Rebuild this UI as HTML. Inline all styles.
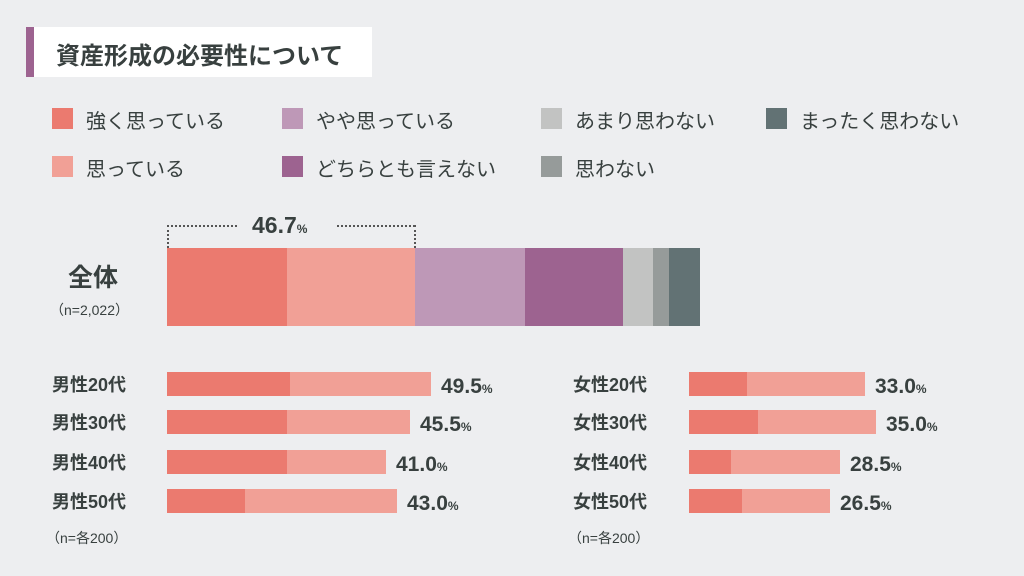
<!DOCTYPE html>
<html><head><meta charset="utf-8"><style>
body{margin:0;width:1024px;height:576px;background:#edeef0;position:relative;overflow:hidden;font-family:"Liberation Sans","Noto Sans CJK JP",sans-serif;color:#38403f}
div{position:absolute}
.t{white-space:nowrap}
.sw{width:21px;height:21px}
.lg{font-size:20px}
.lab{font-size:18px;font-weight:bold}
.v{font-size:21px;font-weight:bold}
.v small{font-size:12px}
</style></head><body>
<div style="left:26px;top:27px;width:346px;height:50px;background:#fff"></div>
<div style="left:26px;top:27px;width:8px;height:50px;background:#9d6390"></div>
<div class="t" style="left:56px;top:36px;font-size:24px;font-weight:bold">資産形成の必要性について</div>

<div class="sw" style="left:52px;top:108px;background:#eb7a6f"></div><div class="t lg" style="left:86px;top:105px">強く思っている</div>
<div class="sw" style="left:282px;top:108px;background:#be98b7"></div><div class="t lg" style="left:316px;top:105px">やや思っている</div>
<div class="sw" style="left:541px;top:108px;background:#c2c3c2"></div><div class="t lg" style="left:575px;top:105px">あまり思わない</div>
<div class="sw" style="left:766px;top:108px;background:#627274"></div><div class="t lg" style="left:800px;top:105px">まったく思わない</div>
<div class="sw" style="left:52px;top:156px;background:#f1a096"></div><div class="t lg" style="left:86px;top:153px">思っている</div>
<div class="sw" style="left:282px;top:156px;background:#9d6390"></div><div class="t lg" style="left:316px;top:153px">どちらとも言えない</div>
<div class="sw" style="left:541px;top:156px;background:#969b9a"></div><div class="t lg" style="left:575px;top:153px">思わない</div>

<div style="left:167px;top:225px;width:70px;border-top:2px dotted #555"></div>
<div style="left:337px;top:225px;width:78px;border-top:2px dotted #555"></div>
<div style="left:167px;top:225px;height:23px;border-left:2px dotted #555"></div>
<div style="left:414px;top:225px;height:23px;border-left:2px dotted #555"></div>
<div class="t v" style="left:252px;top:212px;font-size:23px">46.7<small>%</small></div>

<div style="left:167px;top:248px;width:120px;height:78px;background:#eb7a6f"></div>
<div style="left:287px;top:248px;width:128px;height:78px;background:#f1a096"></div>
<div style="left:415px;top:248px;width:110px;height:78px;background:#be98b7"></div>
<div style="left:525px;top:248px;width:98px;height:78px;background:#9d6390"></div>
<div style="left:623px;top:248px;width:30px;height:78px;background:#c2c3c2"></div>
<div style="left:653px;top:248px;width:16px;height:78px;background:#969b9a"></div>
<div style="left:669px;top:248px;width:31px;height:78px;background:#627274"></div>
<div class="t" style="left:68px;top:258px;font-size:25px;font-weight:bold">全体</div>
<div class="t" style="left:50px;top:300px;font-size:14px">（n=2,022）</div>

<div class="t lab" style="left:52px;top:371px">男性20代</div>
<div class="t lab" style="left:52px;top:409px">男性30代</div>
<div class="t lab" style="left:52px;top:449px">男性40代</div>
<div class="t lab" style="left:52px;top:488px">男性50代</div>
<div style="left:167px;top:372px;width:123px;height:24px;background:#eb7a6f"></div><div style="left:290px;top:372px;width:141px;height:24px;background:#f1a096"></div><div class="t v" style="left:441px;top:375px">49.5<small>%</small></div>
<div style="left:167px;top:410px;width:120px;height:24px;background:#eb7a6f"></div><div style="left:287px;top:410px;width:123px;height:24px;background:#f1a096"></div><div class="t v" style="left:420px;top:413px">45.5<small>%</small></div>
<div style="left:167px;top:450px;width:120px;height:24px;background:#eb7a6f"></div><div style="left:287px;top:450px;width:99px;height:24px;background:#f1a096"></div><div class="t v" style="left:396px;top:453px">41.0<small>%</small></div>
<div style="left:167px;top:489px;width:78px;height:24px;background:#eb7a6f"></div><div style="left:245px;top:489px;width:152px;height:24px;background:#f1a096"></div><div class="t v" style="left:407px;top:492px">43.0<small>%</small></div>
<div class="t" style="left:46px;top:528px;font-size:14px">（n=各200）</div>

<div class="t lab" style="left:573px;top:371px">女性20代</div>
<div class="t lab" style="left:573px;top:409px">女性30代</div>
<div class="t lab" style="left:573px;top:449px">女性40代</div>
<div class="t lab" style="left:573px;top:488px">女性50代</div>
<div style="left:689px;top:372px;width:58px;height:24px;background:#eb7a6f"></div><div style="left:747px;top:372px;width:118px;height:24px;background:#f1a096"></div><div class="t v" style="left:875px;top:375px">33.0<small>%</small></div>
<div style="left:689px;top:410px;width:69px;height:24px;background:#eb7a6f"></div><div style="left:758px;top:410px;width:118px;height:24px;background:#f1a096"></div><div class="t v" style="left:886px;top:413px">35.0<small>%</small></div>
<div style="left:689px;top:450px;width:42px;height:24px;background:#eb7a6f"></div><div style="left:731px;top:450px;width:109px;height:24px;background:#f1a096"></div><div class="t v" style="left:850px;top:453px">28.5<small>%</small></div>
<div style="left:689px;top:489px;width:53px;height:24px;background:#eb7a6f"></div><div style="left:742px;top:489px;width:88px;height:24px;background:#f1a096"></div><div class="t v" style="left:840px;top:492px">26.5<small>%</small></div>
<div class="t" style="left:568px;top:528px;font-size:14px">（n=各200）</div>
</body></html>
